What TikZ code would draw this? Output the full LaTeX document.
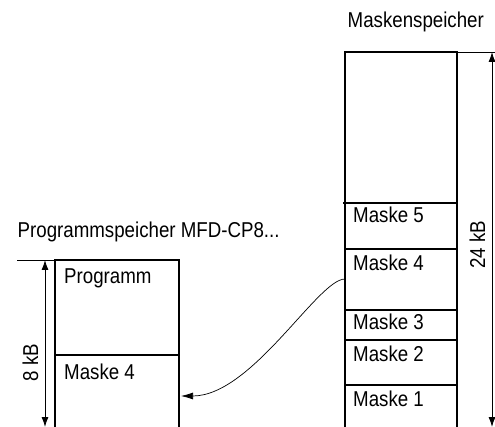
\documentclass[tikz,border=0pt]{standalone}
\usepackage{fontspec}
\setmainfont{Liberation Sans}[FakeStretch=0.87]
\usetikzlibrary{arrows.meta}
\begin{document}
\begin{tikzpicture}[x=1pt,y=-1pt,
  boxline/.style={line width=2.4pt, line join=miter},
  thinline/.style={line width=0.9pt},
  dimarrow/.style={thinline, {Latex[length=10pt,width=7pt]}-{Latex[length=10pt,width=7pt]}},
  linkarrow/.style={line width=0.7pt, -{Latex[length=12pt,width=7pt]}},
  lbl/.style={anchor=base west, inner sep=0pt, font=\fontsize{21.5}{21.5}\selectfont},
  rlbl/.style={anchor=base, inner sep=0pt, rotate=90, font=\fontsize{21.5}{21.5}\selectfont}]
\useasboundingbox (0,0) rectangle (495,427);

% titles
\node[lbl] (tmask) at (347.5,27.7) {Maskenspeicher};
\node[lbl] (tprog) at (17.5,237.7) {Programmspeicher MFD-CP8...};

% right memory (Maskenspeicher)
\draw[boxline] (345,427) -- (345,52) -- (457,52) -- (457,427);
\draw[boxline] (343,203) -- (457,203);
\draw[boxline] (345,249) -- (457,249);
\draw[boxline] (345,310) -- (457,310);
\draw[boxline] (345,340) -- (457,340);
\draw[boxline] (345,385) -- (457,385);
\coordinate (rtop) at (492,52);
\coordinate (rbot) at (492,427);
\draw[thinline] (457,52) -- (495,52);
\draw[dimarrow] (rtop) -- (rbot);
\node[rlbl] (r24) at (485,244.5) {24 kB};

\node[lbl] (m5) at (353,222.7) {Maske 5};
\node[lbl] (m4) at (353,270.5) {Maske 4};
\node[lbl] (m3) at (353,329.5) {Maske 3};
\node[lbl] (m2) at (353,361.5) {Maske 2};
\node[lbl] (m1) at (353,406.5) {Maske 1};

% left memory (Programmspeicher)
\draw[boxline] (55,427) -- (55,260) -- (179,260) -- (179,427);
\draw[boxline] (55,355) -- (179,355);
\coordinate (ltop) at (45,260);
\coordinate (lbot) at (45,427);
\draw[thinline] (17,260) -- (55,260);
\draw[dimarrow] (ltop) -- (lbot);
\node[rlbl] (l8) at (38,362.5) {8 kB};

\node[lbl] (prog) at (64,283.3) {Programm};
\node[lbl] (lm4) at (64,379) {Maske 4};

% link
\coordinate (src) at (345,279);
\coordinate (dst) at (181,396);
\draw[linkarrow] (src) .. controls (318,279) and (252,396) .. (dst);
\end{tikzpicture}
\end{document}
